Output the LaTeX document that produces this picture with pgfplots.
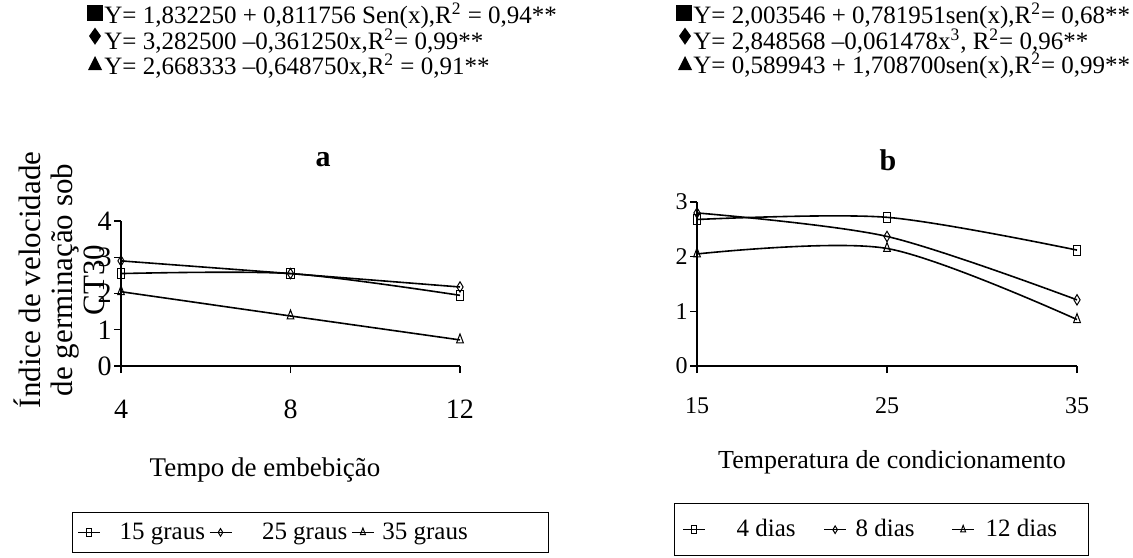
\documentclass[border=0pt]{standalone}
\usepackage{fontspec}
\setmainfont{Liberation Serif}
\usepackage{pgfplots}
\pgfplotsset{compat=1.18}

\pgfplotsset{
  painel/.style={
    scale only axis, clip=false,
    axis x line*=bottom, axis y line*=left,
    axis line style={black, line width=0.6pt},
    tick align=outside, major tick length=3.5pt,
    tick style={black, line width=0.6pt},
    /pgf/number format/assume math mode=true,
    yticklabel style={inner xsep=1pt},
    every axis plot/.append style={black, line width=0.8pt},
    legend columns=3,
    legend cell align=left,
    legend image code/.code={\draw[mark repeat=2,mark phase=2,mark size=1.9pt,line width=0.5pt]
      plot coordinates {(0pt,0pt)(5.5pt,0pt)(11pt,0pt)};},
  },
  quad/.style={mark=square, mark size=2.5pt, mark options={fill=white, xscale=0.75, solid, line width=0.5pt}},
  losango/.style={mark=diamond, mark size=2.6pt, mark options={fill=white, xscale=0.8, solid, line width=0.5pt}},
  tri/.style={mark=triangle, mark size=2.6pt, mark options={fill=white, xscale=0.75, yscale=1.15, solid, line width=0.5pt}},
}

\begin{document}
\begin{tikzpicture}
\useasboundingbox (0pt,0pt) rectangle (566.5pt,-278.5pt);

% equacoes de regressao
\begin{scope}[font=\fontsize{12.5}{14}\selectfont]
\fill (43.5pt,-2.5pt) rectangle (51.5pt,-10.5pt);
\fill (47.5pt,-13.8pt) -- (50.5pt,-18pt) -- (47.5pt,-22.4pt) -- (44.5pt,-18pt) -- cycle;
\fill (44pt,-35pt) -- (51pt,-35pt) -- (47.5pt,-28pt) -- cycle;
\node[anchor=west, inner sep=0pt] at (52pt,-8pt) {Y= 1,832250 + 0,811756 Sen(x),R\textsuperscript{2} = 0,94**};
\node[anchor=west, inner sep=0pt] at (52pt,-20.5pt) {Y= 3,282500 –0,361250x,R\textsuperscript{2}= 0,99**};
\node[anchor=west, inner sep=0pt] at (52pt,-33pt) {Y= 2,668333 –0,648750x,R\textsuperscript{2} = 0,91**};

\fill (338pt,-2.5pt) rectangle (346pt,-10.5pt);
\fill (342.5pt,-13.8pt) -- (345.5pt,-18pt) -- (342.5pt,-22.4pt) -- (339.5pt,-18pt) -- cycle;
\fill (339pt,-35pt) -- (346pt,-35pt) -- (342.5pt,-28pt) -- cycle;
\node[anchor=west, inner sep=0pt] at (346.5pt,-8pt) {Y= 2,003546 + 0,781951sen(x),R\textsuperscript{2}= 0,68**};
\node[anchor=west, inner sep=0pt] at (346.5pt,-20.5pt) {Y= 2,848568 –0,061478x\textsuperscript{3}, R\textsuperscript{2}= 0,96**};
\node[anchor=west, inner sep=0pt] at (346.5pt,-33pt) {Y= 0,589943 + 1,708700sen(x),R\textsuperscript{2}= 0,99**};
\end{scope}

\node[font=\bfseries\fontsize{15}{17}\selectfont] at (161.5pt,-80pt) {a};
\node[font=\bfseries\fontsize{15}{17}\selectfont] at (444pt,-80pt) {b};

\node[rotate=90, align=center, font=\fontsize{15.5}{16}\selectfont] at (29.5pt,-140pt)
  {Índice de velocidade\\de germinação sob\\CT30};
\node[font=\fontsize{13.5}{15}\selectfont] at (132.5pt,-235pt) {Tempo de embebição};
\node[font=\fontsize{13}{15}\selectfont] at (446pt,-231pt) {Temperatura de condicionamento};

% painel a
\begin{axis}[painel,
  at={(60.5pt,-183pt)}, anchor=south west,
  width=169.5pt, height=72.5pt,
  xmin=4, xmax=12, ymin=0, ymax=4,
  xtick={4,8,12}, ytick={0,1,2,3,4},
  ticklabel style={font=\fontsize{14}{16}\selectfont},
  xticklabel style={yshift=-10pt},
  legend style={at={(-0.1445,-1.007)}, anchor=north west, draw=black, line width=0.6pt,
    inner xsep=2.5pt, inner ysep=3pt, font=\fontsize{12.5}{14}\selectfont,
    /tikz/every even column/.append style={column sep=0pt}},
]
\addplot[quad, smooth] coordinates {(4,2.55) (8,2.55) (12,1.95)};
\addlegendentry{\hspace{7.5pt}15 graus\rule[-22pt]{0pt}{0pt}}
\addplot[losango] coordinates {(4,2.90) (8,2.55) (12,2.18)};
\addlegendentry{\hspace{13pt}25 graus}
\addplot[tri] coordinates {(4,2.05) (8,1.38) (12,0.72)};
\addlegendentry{\hspace{2pt}35 graus\rule{36pt}{0pt}}
\end{axis}

% painel b
\begin{axis}[painel,
  at={(348.5pt,-183pt)}, anchor=south west,
  width=190pt, height=82pt,
  xmin=15, xmax=35, ymin=0, ymax=3,
  xtick={15,25,35}, ytick={0,1,2,3},
  ticklabel style={font=\fontsize{12}{14}\selectfont},
  xticklabel style={yshift=-9pt},
  legend style={at={(-0.0605,-0.835)}, anchor=north west, draw=black, line width=0.6pt,
    inner xsep=4pt, inner ysep=6pt, font=\fontsize{12.5}{14}\selectfont,
    /tikz/every even column/.append style={column sep=0pt}},
]
\addplot[quad, smooth] coordinates {(15,2.68) (25,2.72) (35,2.12)};
\addlegendentry{\hspace{13.5pt}4 dias\rule{12pt}{0pt}}
\addplot[losango, smooth] coordinates {(15,2.80) (25,2.37) (35,1.21)};
\addlegendentry{\hspace{2.5pt}8 dias\rule{16.5pt}{0pt}}
\addplot[tri, smooth] coordinates {(15,2.05) (25,2.15) (35,0.85)};
\addlegendentry{\hspace{3.5pt}12 dias\rule{9.5pt}{0pt}}
\end{axis}
\end{tikzpicture}
\end{document}
